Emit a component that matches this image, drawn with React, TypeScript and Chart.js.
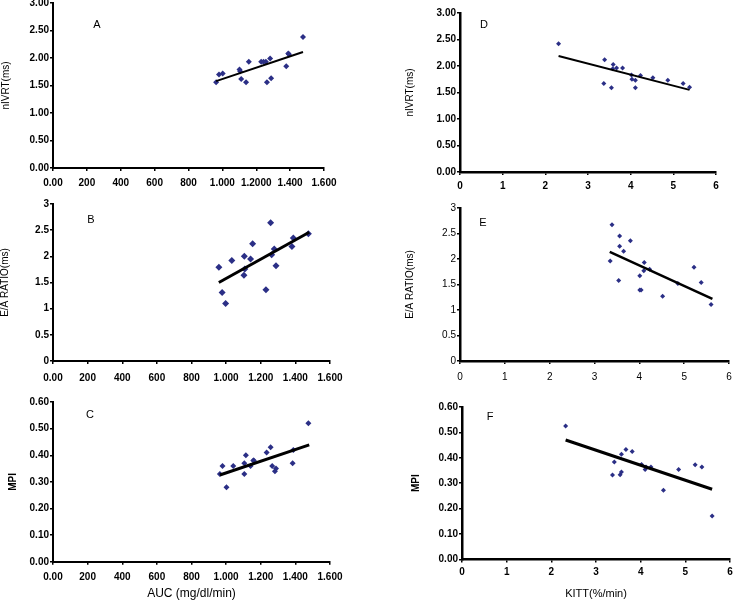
import { useEffect, useRef } from "react";
import { Chart, registerables } from "chart.js";

Chart.register(...registerables);

// tick labels as printed in the figure
const aucTickLabelsA = ["0.00", "200", "400", "600", "800", "1.000", "1.2000", "1.400", "1.600"];
const aucTickLabels = ["0.00", "200", "400", "600", "800", "1.000", "1.200", "1.400", "1.600"];
const kittTickLabels = ["0", "1", "2", "3", "4", "5", "6"];
const nivrtTickLabels = ["0.00", "0.50", "1.00", "1.50", "2.00", "2.50", "3.00"];
const eaTickLabels = ["0", "0.5", "1", "1.5", "2", "2.5", "3"];
const mpiTickLabels = ["0.00", "0.10", "0.20", "0.30", "0.40", "0.50", "0.60"];

// A: AUC vs nIVRT
const aucA = [963, 980, 1002, 1101, 1105, 1111, 1140, 1156, 1229, 1243, 1257, 1263, 1282, 1288, 1377, 1389, 1393, 1476];
const nivrtA = [1.56, 1.70, 1.72, 1.79, 1.76, 1.62, 1.56, 1.93, 1.93, 1.93, 1.93, 1.56, 1.99, 1.63, 1.85, 2.08, 2.07, 2.38];
const trendAucA = [963, 1476];
const trendNivrtA = [1.58, 2.11];

// B: AUC vs E/A ratio
const aucB = [958, 977, 997, 1033, 1103, 1105, 1108, 1141, 1153, 1230, 1257, 1263, 1278, 1288, 1380, 1388, 1475];
const eaB = [1.79, 1.31, 1.10, 1.92, 1.64, 2.00, 1.76, 1.95, 2.24, 1.36, 2.64, 2.03, 2.14, 1.82, 2.19, 2.35, 2.43];
const trendAucB = [958, 1480];
const trendEaB = [1.50, 2.46];

// C: AUC vs MPI
const aucC = [964, 979, 1002, 1041, 1105, 1105, 1114, 1141, 1157, 1160, 1234, 1257, 1266, 1282, 1288, 1384, 1388, 1475];
const mpiC = [0.33, 0.36, 0.28, 0.36, 0.37, 0.33, 0.40, 0.36, 0.38, 0.38, 0.41, 0.43, 0.36, 0.34, 0.35, 0.37, 0.42, 0.52];
const trendAucC = [964, 1480];
const trendMpiC = [0.326, 0.439];

// D: KITT vs nIVRT
const kittD = [2.31, 3.39, 3.37, 3.55, 3.59, 3.58, 3.67, 3.81, 4.02, 4.03, 4.11, 4.11, 4.23, 4.52, 4.87, 5.23, 5.38];
const nivrtD = [2.42, 2.12, 1.67, 1.59, 2.03, 1.95, 1.96, 1.96, 1.83, 1.75, 1.73, 1.59, 1.82, 1.78, 1.73, 1.67, 1.60];
const trendKittD = [2.31, 5.38];
const trendNivrtD = [2.19, 1.55];

// E: KITT vs E/A ratio
const kittE = [3.35, 3.39, 3.54, 3.56, 3.56, 3.65, 3.80, 4.01, 4.01, 4.04, 4.10, 4.11, 4.23, 4.52, 4.86, 5.22, 5.38, 5.60];
const eaE = [1.96, 2.67, 1.58, 2.45, 2.25, 2.15, 2.36, 1.67, 1.39, 1.39, 1.77, 1.93, 1.80, 1.27, 1.52, 1.84, 1.54, 1.11];
const trendKittE = [3.34, 5.63];
const trendEaE = [2.14, 1.22];

// F: KITT vs MPI
const kittF = [2.32, 3.37, 3.41, 3.54, 3.57, 3.57, 3.67, 3.81, 4.02, 4.10, 4.12, 4.23, 4.51, 4.85, 5.22, 5.37, 5.60];
const mpiF = [0.525, 0.332, 0.383, 0.333, 0.344, 0.414, 0.433, 0.425, 0.374, 0.354, 0.364, 0.364, 0.272, 0.354, 0.373, 0.364, 0.171];
const trendKittF = [2.32, 5.60];
const trendMpiF = [0.470, 0.276];

const FONT = "'Liberation Sans', Arial, sans-serif";
const MARKER = "#2b2f86";

const toPoints = (xs: number[], ys: number[]) => xs.map((x, i) => ({ x, y: ys[i] }));

const letterPlugin = {
  id: "panelLetter",
  afterDraw(chart: any, _args: any, opts: any) {
    if (!opts || !opts.text) return;
    const { ctx, chartArea } = chart;
    ctx.save();
    ctx.font = `11px ${FONT}`;
    ctx.fillStyle = "#000";
    ctx.textAlign = "center";
    ctx.textBaseline = "middle";
    ctx.fillText(opts.text, chartArea.left + opts.dx, chartArea.top + opts.dy);
    ctx.restore();
  },
};

interface PanelProps {
  letter: string;
  letterDx: number;
  letterDy: number;
  xs: number[];
  ys: number[];
  trendX: number[];
  trendY: number[];
  xMax: number;
  xStep: number;
  xLabels: string[];
  yMax: number;
  yStep: number;
  yLabels: string[];
  yTitle: string;
  yTitleBold?: boolean;
  xTitle?: string;
  xTitleSize?: number;
  tickBold: boolean;
  // page geometry of plot area
  L: number;
  T: number;
  R: number;
  B: number;
  yTitleX: number;
  xTickY: number;
  xTitleY?: number;
  radius: number;
  trendWidth: number;
  axisWidth: number;
}

function Panel(p: PanelProps) {
  const ref = useRef<HTMLCanvasElement>(null);

  const left = p.yTitleX - 8;
  const top = p.T - 14;
  const width = p.R + 28 - left;
  const xTitleSize = p.xTitleSize || 11;
  const H = p.xTitle && p.xTitleY ? p.xTitleY + (xTitleSize * 1.2) / 2 - p.B : p.xTickY - p.B + 12;
  const height = Math.round(p.B + H - top);
  const yAxisWidth = p.L - left - 2;
  const xTickPad = p.xTickY - p.B - 3 - 6;

  useEffect(() => {
    if (!ref.current) return;
    const ctx = ref.current.getContext("2d");
    if (!ctx) return;

    const chart = new Chart(ctx, {
      type: "scatter",
      data: {
        datasets: [
          {
            type: "line",
            data: toPoints(p.trendX, p.trendY),
            borderColor: "#000",
            borderWidth: p.trendWidth,
            pointRadius: 0,
            fill: false,
          } as any,
          {
            data: toPoints(p.xs, p.ys),
            pointStyle: "rectRot",
            pointRadius: p.radius,
            backgroundColor: MARKER,
            borderColor: MARKER,
            borderWidth: 0,
          },
        ],
      },
      options: {
        responsive: false,
        animation: false,
        layout: { padding: { left: 2, top: 14, right: 28, bottom: 0 } },
        plugins: {
          legend: { display: false },
          tooltip: { enabled: false },
          panelLetter: { text: p.letter, dx: p.letterDx, dy: p.letterDy },
        } as any,
        scales: {
          x: {
            type: "linear",
            min: 0,
            max: p.xMax,
            afterFit: (s: any) => { s.height = H; },
            border: { color: "#000", width: p.axisWidth },
            grid: { drawOnChartArea: false, drawTicks: true, tickLength: 3, color: "#000", lineWidth: 1.5 },
            ticks: {
              stepSize: p.xStep,
              padding: xTickPad,
              maxRotation: 0,
              autoSkip: false,
              color: "#000",
              font: { family: FONT, size: 10, weight: p.tickBold ? "bold" : "normal" },
              callback: (_v: any, i: number) => p.xLabels[i],
            },
            title: {
              display: !!p.xTitle,
              text: p.xTitle || "",
              color: "#000",
              padding: 0,
              font: { family: FONT, size: xTitleSize },
            },
          },
          y: {
            type: "linear",
            min: 0,
            max: p.yMax,
            afterFit: (s: any) => { s.width = yAxisWidth; },
            border: { color: "#000", width: p.axisWidth },
            grid: { drawOnChartArea: false, drawTicks: true, tickLength: 3, color: "#000", lineWidth: 1.5 },
            ticks: {
              stepSize: p.yStep,
              padding: 1,
              color: "#000",
              font: { family: FONT, size: 10, weight: p.tickBold ? "bold" : "normal" },
              callback: (_v: any, i: number) => p.yLabels[i],
            },
            title: {
              display: true,
              text: p.yTitle,
              color: "#000",
              padding: 0,
              font: { family: FONT, size: 10, weight: p.yTitleBold ? "bold" : "normal" },
            },
          },
        },
      },
      plugins: [letterPlugin],
    });

    return () => chart.destroy();
  }, []);

  return (
    <canvas
      ref={ref}
      width={width}
      height={height}
      style={{ position: "absolute", left, top, width, height }}
    />
  );
}

export default function App() {
  return (
    <div
      style={{
        position: "absolute",
        left: 0,
        top: 0,
        width: 734,
        height: 600,
        overflow: "hidden",
        background: "#fff",
      }}
    >
      <Panel
        letter="A" letterDx={44} letterDy={22}
        xs={aucA} ys={nivrtA} trendX={trendAucA} trendY={trendNivrtA}
        xMax={1600} xStep={200} xLabels={aucTickLabelsA}
        yMax={3} yStep={0.5} yLabels={nivrtTickLabels}
        yTitle="nIVRT(ms)" tickBold
        L={53} T={3} R={324} B={168} yTitleX={6} xTickY={183}
        radius={3} trendWidth={2} axisWidth={2}
      />
      <Panel
        letter="B" letterDx={38} letterDy={16}
        xs={aucB} ys={eaB} trendX={trendAucB} trendY={trendEaB}
        xMax={1600} xStep={200} xLabels={aucTickLabels}
        yMax={3} yStep={0.5} yLabels={eaTickLabels}
        yTitle="E/A RATIO(ms)" tickBold
        L={53} T={204} R={330} B={361} yTitleX={5} xTickY={378}
        radius={3.5} trendWidth={3} axisWidth={2}
      />
      <Panel
        letter="C" letterDx={37} letterDy={13}
        xs={aucC} ys={mpiC} trendX={trendAucC} trendY={trendMpiC}
        xMax={1600} xStep={200} xLabels={aucTickLabels}
        yMax={0.6} yStep={0.1} yLabels={mpiTickLabels}
        yTitle="MPI" yTitleBold xTitle="AUC (mg/dl/min)" xTitleSize={12} tickBold
        L={53} T={402} R={330} B={562} yTitleX={13} xTickY={577} xTitleY={594}
        radius={3} trendWidth={3} axisWidth={2}
      />
      <Panel
        letter="D" letterDx={24} letterDy={12}
        xs={kittD} ys={nivrtD} trendX={trendKittD} trendY={trendNivrtD}
        xMax={6} xStep={1} xLabels={kittTickLabels}
        yMax={3} yStep={0.5} yLabels={nivrtTickLabels}
        yTitle="nIVRT(ms)" tickBold
        L={460} T={13} R={716} B={172} yTitleX={410} xTickY={186}
        radius={2.5} trendWidth={2} axisWidth={2.5}
      />
      <Panel
        letter="E" letterDx={23} letterDy={15}
        xs={kittE} ys={eaE} trendX={trendKittE} trendY={trendEaE}
        xMax={6} xStep={1} xLabels={kittTickLabels}
        yMax={3} yStep={0.5} yLabels={eaTickLabels}
        yTitle="E/A RATIO(ms)" tickBold={false}
        L={460} T={208} R={729} B={361} yTitleX={410} xTickY={377}
        radius={2.5} trendWidth={2.5} axisWidth={2.5}
      />
      <Panel
        letter="F" letterDx={28} letterDy={10}
        xs={kittF} ys={mpiF} trendX={trendKittF} trendY={trendMpiF}
        xMax={6} xStep={1} xLabels={kittTickLabels}
        yMax={0.6} yStep={0.1} yLabels={mpiTickLabels}
        yTitle="MPI" yTitleBold xTitle="KITT(%/min)" tickBold
        L={462} T={407} R={730} B={559} yTitleX={416} xTickY={572} xTitleY={594}
        radius={2.5} trendWidth={3} axisWidth={2.5}
      />
    </div>
  );
}
